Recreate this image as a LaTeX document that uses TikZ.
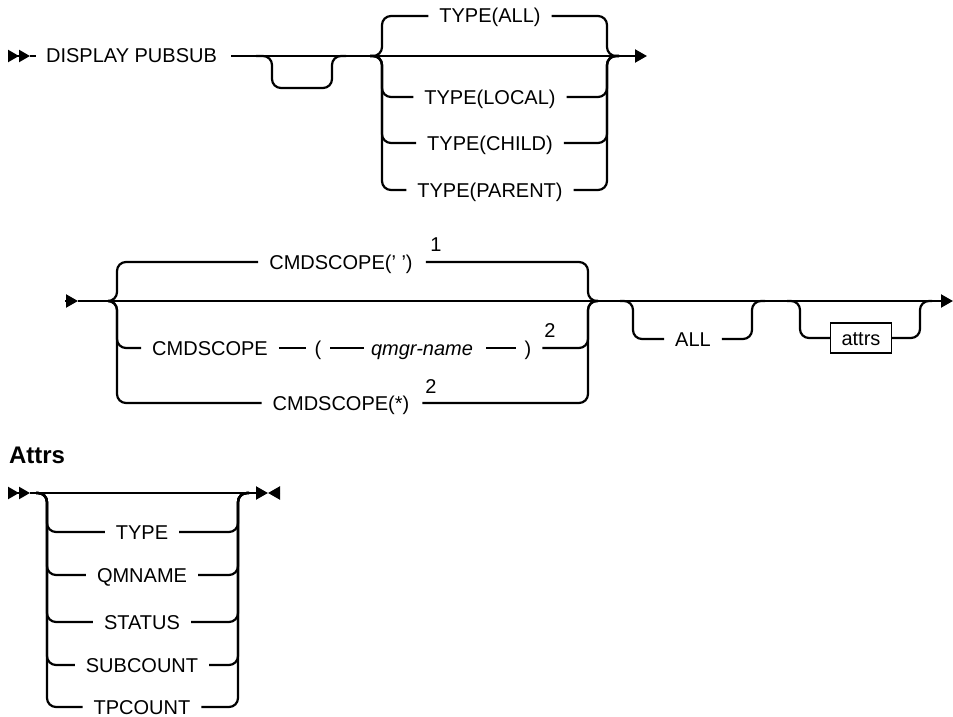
\documentclass[tikz,border=0pt]{standalone}
\usepackage{fontspec}
\setmainfont{Liberation Sans}
\usetikzlibrary{arrows.meta}
\begin{document}
\begin{tikzpicture}[x=1pt, y=-1pt, line width=2.2pt, >={Triangle[length=12pt,width=13pt]},
		every node/.style={font=\fontsize{20}{24}\selectfont, inner sep=0pt, text height=14pt, text depth=0pt},
		rail/.style={rounded corners=9pt},
		note/.style={anchor=south},
		item/.style={draw, line width=1.4pt, inner xsep=11pt, inner ysep=8pt}]
	\useasboundingbox (0,0) rectangle (953,717);

	% 1. 第一行: DISPLAY PUBSUB 与 TYPE 选项
	\draw[-{Triangle[length=11pt,width=12pt]Triangle[length=11pt,width=12pt]}] (8,56) -- (30,56);
	\node[anchor=west] (disp) at (45,56) {DISPLAY PUBSUB};
	\draw (30,56) -- ([xshift=-9pt]disp.west);
	\draw[->] ([xshift=13pt]disp.east) -- (647,56);
	\draw[rail] (256,56) -| (272,88) -| (332,56) -- (346,56);
	\foreach \n/\y/\t in {tall/16/{TYPE(ALL)}, tlocal/97/{TYPE(LOCAL)}, tchild/143/{TYPE(CHILD)}, tparent/190/{TYPE(PARENT)}} {
		\node (\n) at (490,\y) {\t};
		\draw[rail] (370,56) -| (382,\y) -- ([xshift=-10pt]\n.west);
		\draw[rail] ([xshift=10pt]\n.east) -| (607,56) -- (619,56);
	}

	% 2. 第二行: CMDSCOPE 选项
	\draw[->] (65,301) -- (78,301);
	\draw[->] (78,301) -- (953,301);
	\node (cblank) at (341,262) {CMDSCOPE(' ')};
	\node[note] (n1) at (436,253) {1};
	\draw[rail] (108,301) -| (117,262) -- ([xshift=-10pt]cblank.west);
	\draw[rail] ([xshift=12pt]cblank.east) -| (588,301) -- (598,301);

	\node (cname) at (210,348) {CMDSCOPE};
	\node (lpar) at (318,348) {(};
	\node[font=\itshape\fontsize{20}{24}\selectfont] (qmgr) at (422,348) {qmgr-name};
	\node (rpar) at (528,348) {)};
	\node[note] (n2) at (550,339) {2};
	\draw[rail] (108,301) -| (117,348) -- ([xshift=-10pt]cname.west);
	\draw ([xshift=10pt]cname.east) -- ([xshift=-8pt]lpar.west);
	\draw ([xshift=8pt]lpar.east) -- ([xshift=-6pt]qmgr.west);
	\draw ([xshift=12pt]qmgr.east) -- ([xshift=-8pt]rpar.west);
	\draw[rail] ([xshift=10pt]rpar.east) -| (588,301) -- (598,301);

	\node (cstar) at (341,403) {CMDSCOPE(*)};
	\node[note] (n3) at (431,395) {2};
	\draw[rail] (108,301) -| (117,403) -- ([xshift=-10pt]cstar.west);
	\draw[rail] ([xshift=12pt]cstar.east) -| (588,301) -- (598,301);

	% 3. ALL 与 attrs 可选项
	\node (all) at (693,339) {ALL};
	\draw[rail] (620,301) -| (633,339) -- ([xshift=-10pt]all.west);
	\draw[rail] ([xshift=10pt]all.east) -| (752,301) -- (765,301);
	\node[item] (attrs) at (861,338) {attrs};
	\draw[rail] (787,301) -| (800,338) -- (attrs.west);
	\draw[rail] (attrs.east) -| (920,301) -- (932,301);

	% 4. Attrs 片段
	\node[anchor=west, font=\bfseries\fontsize{24}{28}\selectfont, text height=17pt] (head) at (8,455) {Attrs};
	\draw[-{Triangle[length=11pt,width=12pt]Triangle[length=11pt,width=12pt]}] (8,493) -- (30,493);
	\draw[->] (30,493) -- (268,493);
	\draw[->] (280,493) -- (268,493);
	\foreach \n/\y/\t in {atype/532/TYPE, aqm/575/QMNAME, astat/622/STATUS, asub/665/SUBCOUNT, atp/707/TPCOUNT} {
		\node (\n) at (142,\y) {\t};
		\draw[rail] (36,493) -| (47,\y) -- ([xshift=-10pt]\n.west);
		\draw[rail] ([xshift=10pt]\n.east) -| (238,493) -- (249,493);
	}
\end{tikzpicture}
\end{document}
